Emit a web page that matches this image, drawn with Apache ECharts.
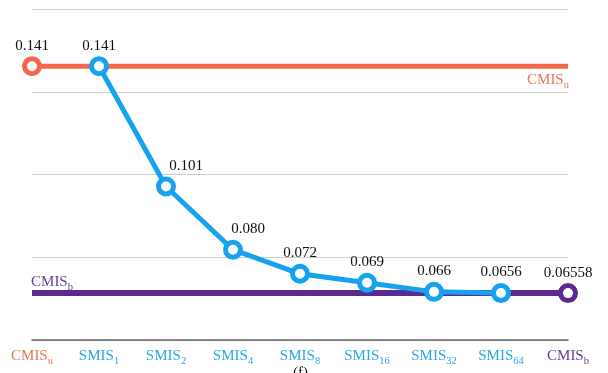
<!DOCTYPE html>
<html>
<head>
<meta charset="utf-8">
<script src="https://cdn.jsdelivr.net/npm/echarts@6/dist/echarts.min.js"></script>
<style>html,body{margin:0;padding:0;background:#fff}#c{width:608px;height:373px}</style>
</head>
<body>
<div id="c"></div>
<script>
var categories = ['CMIS_u','SMIS_1','SMIS_2','SMIS_4','SMIS_8','SMIS_16','SMIS_32','SMIS_64','CMIS_b'];
var cmisU = [0.141,0.141,0.141,0.141,0.141,0.141,0.141,0.141,0.141];
var smis = [null,0.141,0.101,0.080,0.072,0.069,0.066,0.0656,null];
var smisLabels = ['', '0.141','0.101','0.080','0.072','0.069','0.066','0.0656',''];
var cmisB = [0.06558,0.06558,0.06558,0.06558,0.06558,0.06558,0.06558,0.06558,0.06558];
var cmisULabel = '0.141';
var cmisBLabel = '0.06558';

var RED = '#F4674A', BLUE = '#17A2F0', PURPLE = '#5A2A92';
var RED_T = '#E8735C', BLUE_T = '#2AA6EA', PURPLE_T = '#6A3A9E';
var FONT = '"Liberation Serif", "DejaVu Serif", serif';

function catColorKey(i){ return i === 0 ? 'r' : (i === categories.length-1 ? 'p' : 'b'); }

var chart = echarts.init(document.getElementById('c'));

var smisData = smis.map(function(v,i){
  if (v === null) return null;
  var off = [0,0];
  if (i === 2) off = [20,0];
  if (i === 3) off = [15,0];
  return {value: v, label: {show: true, offset: off, formatter: smisLabels[i]}};
});

function subRich(col){
  return {m: {fontSize: 15, color: col, fontFamily: FONT, verticalAlign: 'bottom', lineHeight: 17},
          s: {fontSize: 10.5, color: col, fontFamily: FONT, verticalAlign: 'bottom', lineHeight: 12, padding: [0,0,-3,0]}};
}

var hidden = {symbol: 'circle', symbolSize: 0.01, itemStyle: {borderWidth: 0, opacity: 0}};

var uData = cmisU.map(function(v,i){
  if (i === 0) return {value: v, symbol: 'circle', label: {show: true, formatter: cmisULabel, position: 'top', distance: 3, color: '#111'}};
  if (i === categories.length-1) return {value: v, symbol: 'circle', symbolSize: 1, itemStyle: {borderWidth: 0, color: 'rgba(0,0,0,0)'},
     label: {show: true, position: 'bottom', distance: 4, offset: [-20, 0], formatter: '{m|CMIS}{s|u}', rich: subRich(RED_T)}};
  return {value: v, symbol: 'none'};
});

var bData = cmisB.map(function(v,i){
  if (i === categories.length-1) return {value: v, symbol: 'circle', label: {show: true, formatter: cmisBLabel, position: 'top', distance: 3, color: '#111'}};
  if (i === 0) return {value: v, symbol: 'circle', symbolSize: 1, itemStyle: {borderWidth: 0, color: 'rgba(0,0,0,0)'},
     label: {show: true, position: 'top', distance: 3, offset: [20, 0], formatter: '{m|CMIS}{s|b}', rich: subRich(PURPLE_T)}};
  return {value: v, symbol: 'none'};
});

var rich = {};
[['r',RED_T],['b',BLUE_T],['p',PURPLE_T]].forEach(function(p){
  rich[p[0]] = {fontSize: 15, color: p[1], fontFamily: FONT, verticalAlign: 'bottom', lineHeight: 17};
  rich[p[0]+'s'] = {fontSize: 10.5, color: p[1], fontFamily: FONT, verticalAlign: 'bottom', lineHeight: 12, padding: [0,0,-3,0]};
});

chart.setOption({
  animation: false,
  backgroundColor: '#fff',
  textStyle: {fontFamily: FONT},
  grid: {left: 32, right: 40, top: 9, bottom: 33, containLabel: false},
  xAxis: {
    type: 'category', data: categories, boundaryGap: false,
    axisLine: {show: true, lineStyle: {color: '#666', width: 1.5}},
    axisTick: {show: false},
    splitLine: {show: false},
    axisLabel: {
      margin: 7, interval: 0,
      formatter: function(val, i){
        var parts = val.split('_'); var k = catColorKey(i);
        return '{' + k + '|' + parts[0] + '}{' + k + 's|' + parts[1] + '}';
      },
      rich: rich
    }
  },
  yAxis: {
    type: 'value', min: 0.05, max: 0.16, interval: 0.0275,
    axisLine: {show: false}, axisTick: {show: false}, axisLabel: {show: false},
    splitLine: {lineStyle: {color: '#cfcfcf', width: 1}}
  },
  series: [
    {
      name: 'CMISu', type: 'line', data: uData, z: 2,
      lineStyle: {color: RED, width: 5}, symbolSize: 15,
      itemStyle: {color: '#fff', borderColor: RED, borderWidth: 5},
      label: {fontSize: 15, fontFamily: FONT, color: '#111'}
    },
    {
      name: 'CMISb', type: 'line', data: bData, z: 3,
      lineStyle: {color: PURPLE, width: 6}, symbolSize: 15,
      itemStyle: {color: '#fff', borderColor: PURPLE, borderWidth: 5},
      label: {fontSize: 15, fontFamily: FONT, color: '#111'}
    },
    {
      name: 'SMIS', type: 'line', data: smisData, z: 4, connectNulls: false,
      lineStyle: {color: BLUE, width: 5}, symbol: 'circle', symbolSize: 15, showAllSymbol: true,
      itemStyle: {color: '#fff', borderColor: BLUE, borderWidth: 5},
      label: {show: true, position: 'top', distance: 3, fontSize: 15, fontFamily: FONT, color: '#111'}
    }
  ],
  graphic: [{type: 'text', left: 293, top: 366, style: {text: '(f)', font: '15px ' + FONT, fill: '#111'}}]
});
</script>
</body>
</html>
